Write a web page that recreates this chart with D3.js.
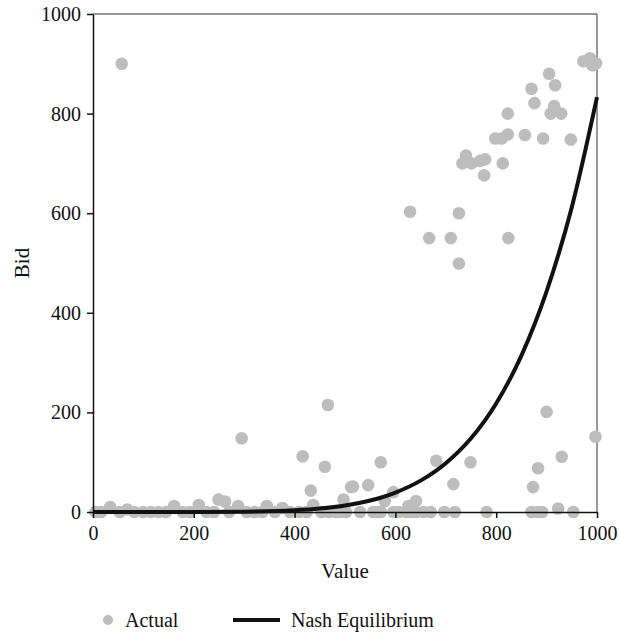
<!DOCTYPE html>
<html>
<head>
<meta charset="utf-8">
<script src="https://cdn.jsdelivr.net/npm/d3@7"></script>
<style>
  body { margin: 0; background: #fff; }
  svg text { font-family: "Times New Roman", Times, "Liberation Serif", "DejaVu Serif", serif !important; fill: #111; }
</style>
</head>
<body>
<div id="chart"></div>
<script>
// observed bids (value, bid)
const actualValue = [
  57, 629, 726, 740, 733, 751, 768, 778, 776, 813, 798, 811, 823, 823, 857, 893, 948,
  870, 876, 905, 917, 915, 908, 929, 973, 986, 991, 998,
  667, 710, 824, 726,
  295, 416, 460, 432, 497, 516, 249, 262, 466,
  571, 512, 546, 596, 579, 641, 626, 681, 715, 749, 900, 997, 930, 883, 873, 923,
  490, 502, 530, 556, 566, 571, 596, 606, 622, 632, 641, 656, 670, 697, 718, 781, 870, 882, 891, 953,
  5, 16, 34, 53, 68, 82, 100, 115, 130, 145, 161, 178, 192, 210, 225, 240, 270,
  288, 305, 321, 336, 345, 361, 376, 391, 409, 424, 437, 453, 468, 482
];
const actualBid = [
  900, 603, 600, 716, 700, 700, 705, 708, 676, 700, 750, 750, 758, 800, 757, 750, 748,
  850, 821, 880, 857, 815, 800, 800, 905, 911, 897, 901,
  550, 550, 550, 499,
  148, 112, 91, 43, 25, 51, 25, 21, 215,
  100, 50, 54, 40, 22, 22, 12, 103, 56, 100, 201, 151, 111, 88, 50, 7,
  0, 0, 0, 0, 0, 0, 0, 0, 0, 0, 0, 0, 0, 0, 0, 0, 0, 0, 0, 0,
  0, 0, 10, 0, 5, 0, 0, 0, 0, 0, 12, 0, 0, 14, 0, 0, 0,
  12, 0, 0, 0, 12, 0, 8, 0, 0, 0, 14, 0, 0, 0
];

// Nash equilibrium curve
const nashValue = [0, 100, 200, 300, 400, 450, 500, 550, 600, 650, 700, 750, 800, 850, 900, 950, 1000];
const nashBid   = [0, 0, 0.05, 0.6, 3.4, 7, 13, 23, 39, 63, 98, 148, 218, 314, 443, 612, 833];

const xTicks = [0, 200, 400, 600, 800, 1000];
const yTicks = [0, 200, 400, 600, 800, 1000];

const width = 620, height = 635;
const margin = { top: 14, right: 23, bottom: 123, left: 93 };
const innerWidth = width - margin.left - margin.right;
const innerHeight = height - margin.top - margin.bottom;

const svg = d3.select("#chart").append("svg")
  .attr("width", width)
  .attr("height", height);

const g = svg.append("g")
  .attr("transform", `translate(${margin.left},${margin.top})`);

const x = d3.scaleLinear().domain([0, 1000]).range([0, innerWidth]);
const y = d3.scaleLinear().domain([0, 1000]).range([innerHeight, 0]);

// frame (top and right)
g.append("line").attr("x1", 0).attr("x2", innerWidth).attr("y1", 0).attr("y2", 0)
  .attr("stroke", "#333").attr("stroke-width", 1);
g.append("line").attr("x1", innerWidth).attr("x2", innerWidth).attr("y1", 0).attr("y2", innerHeight)
  .attr("stroke", "#333").attr("stroke-width", 1);

// curve
const line = d3.line()
  .x((d, i) => x(nashValue[i]))
  .y(d => y(d))
  .curve(d3.curveMonotoneX);

// points
const pts = actualValue.map((v, i) => ({ v, b: actualBid[i] }));
g.selectAll("circle.pt")
  .data(pts)
  .join("circle")
  .attr("class", "pt")
  .attr("cx", d => x(d.v))
  .attr("cy", d => y(d.b))
  .attr("r", 6.3)
  .attr("fill", "#bdbdbd");

g.append("path")
  .datum(nashBid)
  .attr("d", line)
  .attr("fill", "none")
  .attr("stroke", "#111")
  .attr("stroke-width", 4);

// axes
const xAxis = g.append("g")
  .attr("transform", `translate(0,${innerHeight})`)
  .call(d3.axisBottom(x).tickValues(xTicks).tickSize(6).tickSizeOuter(0).tickFormat(d3.format("d")));
const yAxis = g.append("g")
  .call(d3.axisLeft(y).tickValues(yTicks).tickSize(6).tickSizeOuter(0).tickFormat(d3.format("d")));

[xAxis, yAxis].forEach(a => {
  a.attr("font-size", 20);
  a.select(".domain").attr("stroke", "#111").attr("stroke-width", 1.5);
  a.selectAll(".tick line").attr("stroke", "#111").attr("stroke-width", 1.5);
  a.selectAll(".tick text").attr("fill", "#111");
});
xAxis.selectAll(".tick text").attr("dy", "0.95em");
yAxis.selectAll(".tick text").attr("x", -12);

// axis titles
svg.append("text")
  .attr("x", margin.left + innerWidth / 2)
  .attr("y", 578)
  .attr("text-anchor", "middle")
  .attr("font-size", 21)
  .text("Value");

svg.append("text")
  .attr("transform", `translate(29, ${margin.top + innerHeight / 2}) rotate(-90)`)
  .attr("text-anchor", "middle")
  .attr("font-size", 21)
  .text("Bid");

// legend
const legend = svg.append("g").attr("transform", "translate(0, 620)")
  .attr("font-size", 20);
legend.append("circle").attr("cx", 108).attr("cy", 0).attr("r", 5).attr("fill", "#bdbdbd");
legend.append("text").attr("x", 125).attr("y", 7).text("Actual");
legend.append("line").attr("x1", 233).attr("x2", 280).attr("y1", 0).attr("y2", 0)
  .attr("stroke", "#111").attr("stroke-width", 4);
legend.append("text").attr("x", 291).attr("y", 7).text("Nash Equilibrium");
</script>
</body>
</html>
